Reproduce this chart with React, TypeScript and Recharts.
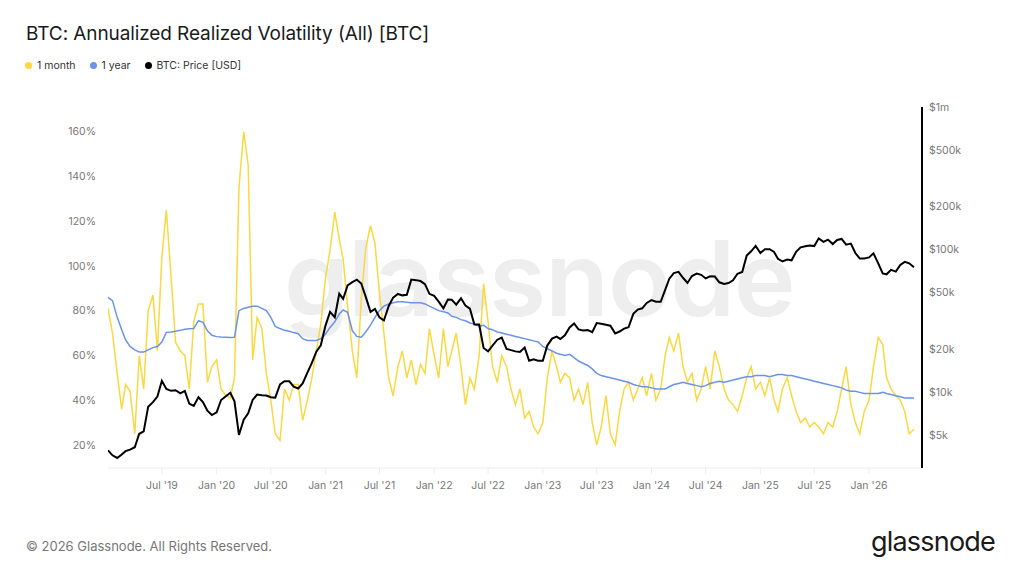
import React from "react";
import { LineChart, Line, XAxis, YAxis } from "recharts";

// half-month sample dates (1st and 16th)
const dates = [
  "2019-01-01", "2019-01-16", "2019-02-01", "2019-02-16", "2019-03-01", "2019-03-16", "2019-04-01", "2019-04-16", "2019-05-01", "2019-05-16", "2019-06-01", "2019-06-16",
  "2019-07-01", "2019-07-16", "2019-08-01", "2019-08-16", "2019-09-01", "2019-09-16", "2019-10-01", "2019-10-16", "2019-11-01", "2019-11-16", "2019-12-01", "2019-12-16",
  "2020-01-01", "2020-01-16", "2020-02-01", "2020-02-16", "2020-03-01", "2020-03-16", "2020-04-01", "2020-04-16", "2020-05-01", "2020-05-16", "2020-06-01", "2020-06-16",
  "2020-07-01", "2020-07-16", "2020-08-01", "2020-08-16", "2020-09-01", "2020-09-16", "2020-10-01", "2020-10-16", "2020-11-01", "2020-11-16", "2020-12-01", "2020-12-16",
  "2021-01-01", "2021-01-16", "2021-02-01", "2021-02-16", "2021-03-01", "2021-03-16", "2021-04-01", "2021-04-16", "2021-05-01", "2021-05-16", "2021-06-01", "2021-06-16",
  "2021-07-01", "2021-07-16", "2021-08-01", "2021-08-16", "2021-09-01", "2021-09-16", "2021-10-01", "2021-10-16", "2021-11-01", "2021-11-16", "2021-12-01", "2021-12-16",
  "2022-01-01", "2022-01-16", "2022-02-01", "2022-02-16", "2022-03-01", "2022-03-16", "2022-04-01", "2022-04-16", "2022-05-01", "2022-05-16", "2022-06-01", "2022-06-16",
  "2022-07-01", "2022-07-16", "2022-08-01", "2022-08-16", "2022-09-01", "2022-09-16", "2022-10-01", "2022-10-16", "2022-11-01", "2022-11-16", "2022-12-01", "2022-12-16",
  "2023-01-01", "2023-01-16", "2023-02-01", "2023-02-16", "2023-03-01", "2023-03-16", "2023-04-01", "2023-04-16", "2023-05-01", "2023-05-16", "2023-06-01", "2023-06-16",
  "2023-07-01", "2023-07-16", "2023-08-01", "2023-08-16", "2023-09-01", "2023-09-16", "2023-10-01", "2023-10-16", "2023-11-01", "2023-11-16", "2023-12-01", "2023-12-16",
  "2024-01-01", "2024-01-16", "2024-02-01", "2024-02-16", "2024-03-01", "2024-03-16", "2024-04-01", "2024-04-16", "2024-05-01", "2024-05-16", "2024-06-01", "2024-06-16",
  "2024-07-01", "2024-07-16", "2024-08-01", "2024-08-16", "2024-09-01", "2024-09-16", "2024-10-01", "2024-10-16", "2024-11-01", "2024-11-16", "2024-12-01", "2024-12-16",
  "2025-01-01", "2025-01-16", "2025-02-01", "2025-02-16", "2025-03-01", "2025-03-16", "2025-04-01", "2025-04-16", "2025-05-01", "2025-05-16", "2025-06-01", "2025-06-16",
  "2025-07-01", "2025-07-16", "2025-08-01", "2025-08-16", "2025-09-01", "2025-09-16", "2025-10-01", "2025-10-16", "2025-11-01", "2025-11-16", "2025-12-01", "2025-12-16",
  "2026-01-01", "2026-01-16", "2026-02-01", "2026-02-16", "2026-03-01", "2026-03-16", "2026-04-01", "2026-04-16", "2026-05-01", "2026-05-16", "2026-06-01",
];

// 1 month realized vol, %
const vol1m = [
  81, 70, 52, 36, 47, 44, 25, 60, 45, 80, 87, 62,
  104, 125, 95, 66, 62, 60, 45, 75, 83, 83, 48, 55,
  58, 45, 42, 41, 50, 135, 160, 145, 58, 77, 72, 52,
  40, 25, 22, 45, 40, 47, 47, 31, 40, 50, 62, 74,
  95, 107, 124, 112, 103, 82, 62, 50, 85, 108, 118, 110,
  88, 70, 50, 42, 55, 62, 50, 58, 47, 56, 52, 72,
  60, 50, 72, 55, 62, 70, 55, 38, 50, 45, 60, 92,
  75, 55, 48, 60, 55, 45, 38, 45, 32, 35, 28, 25,
  30, 50, 62, 55, 48, 52, 50, 40, 45, 38, 48, 30,
  20, 28, 42, 25, 20, 35, 45, 48, 40, 45, 50, 42,
  52, 40, 45, 60, 68, 62, 70, 55, 48, 52, 40, 45,
  55, 45, 62, 55, 45, 40, 38, 35, 42, 50, 55, 45,
  48, 42, 50, 40, 35, 45, 50, 42, 35, 30, 32, 28,
  30, 28, 25, 30, 28, 35, 45, 55, 38, 30, 25, 35,
  40, 55, 68, 65, 50, 45, 42, 40, 35, 25, 27,
];

// 1 year realized vol, %
const vol1y = [
  86, 84.5, 77, 71.5, 67, 64, 62.5, 61.5, 61.5, 62.5, 63.5, 64,
  66, 70.3, 70.5, 70.8, 71.2, 71.7, 71.9, 72, 75.5, 74.8, 71, 69,
  68.4, 68.2, 68.1, 68, 68.1, 80, 81, 81.5, 82, 82, 81, 80,
  77, 73, 72, 71.2, 70.8, 70.2, 69.7, 67.5, 66.7, 66.7, 66.7, 67.5,
  69.6, 72.5, 75, 78.5, 80.3, 79.3, 71, 68.5, 68.1, 70.5, 73.5, 77,
  80, 82, 83, 83.5, 84, 84, 83.8, 83.5, 83.5, 83.5, 83, 82,
  81, 80, 79.5, 79, 77.5, 77, 76, 75.5, 74.5, 74, 73, 73.5,
  72, 71.5, 70.5, 70, 69.5, 69, 68.5, 68, 67.5, 67, 66.5, 66,
  64, 63, 62, 61, 60.5, 60, 60.5, 59, 57.5, 56.5, 55.5, 54,
  52, 51, 50.5, 50, 49.5, 49, 48.5, 48, 47, 46.5, 46, 46,
  45.5, 45, 45, 45, 46, 47, 47.5, 48, 47.5, 47, 46.5, 46,
  46.5, 47.5, 48, 48.5, 48, 48.5, 49, 49.5, 50, 50.5, 50.5, 51,
  51, 51, 50.5, 51, 51.5, 51.5, 51, 51, 50.5, 50, 49.5, 49,
  48.5, 48, 47.5, 47, 46.5, 46, 45.5, 44.5, 44, 44, 43.5, 43,
  43, 43, 43, 43.5, 43, 42.5, 42, 41.5, 41, 41, 41,
];

// BTC price, USD
const price = [
  3900, 3600, 3450, 3650, 3850, 3950, 4100, 5100, 5300, 7900, 8500, 9300,
  12000, 10500, 10200, 10300, 9800, 10200, 8300, 8000, 9200, 8500, 7400, 6900,
  7200, 8800, 9350, 9900, 8600, 5000, 6400, 7100, 8800, 9600, 9500, 9450,
  9200, 9150, 11300, 11900, 11900, 10900, 10600, 11500, 13700, 16000, 19200, 21300,
  29400, 36500, 33500, 49000, 45000, 56000, 59000, 61500, 57800, 46500, 36500, 38300,
  33500, 31800, 40000, 46000, 48800, 47700, 48100, 61500, 61000, 60100, 57200, 48900,
  47300, 43100, 38700, 44600, 44400, 41100, 45500, 40400, 38500, 29800, 29800, 20400,
  19300, 21200, 23300, 24100, 20100, 19700, 19300, 19100, 20500, 16600, 17000, 16600,
  16600, 21200, 23700, 24500, 23600, 25000, 28400, 30300, 27500, 27000, 27200, 26300,
  30500, 30200, 29700, 29200, 25800, 26600, 27900, 28500, 35400, 37900, 38700, 42200,
  44200, 43100, 43000, 52100, 62400, 68400, 69700, 63400, 58300, 65200, 67800, 66500,
  62700, 64900, 64600, 58900, 57300, 58200, 60800, 67600, 69500, 90600, 97200, 106000,
  94400, 100500, 100600, 96100, 86100, 82600, 85100, 84000, 96500, 103500, 105600, 106800,
  105700, 119800, 113200, 117400, 109200, 116800, 118600, 108200, 110000, 94500, 86500, 86400,
  88000, 94000, 80000, 68000, 67000, 72000, 70000, 78000, 82000, 80000, 75000,
];

const xTicks = [
  "2019-07-01", "2020-01-01", "2020-07-01", "2021-01-01", "2021-07-01", "2022-01-01", "2022-07-01",
  "2023-01-01", "2023-07-01", "2024-01-01", "2024-07-01", "2025-01-01", "2025-07-01", "2026-01-01",
];
const volTicks = [20, 40, 60, 80, 100, 120, 140, 160];
const priceTicks = [5000, 10000, 20000, 50000, 100000, 200000, 500000, 1000000];

const X_START = Date.parse("2019-01-01");
const X_END = Date.parse("2026-06-28");

const YELLOW = "#f8d843";
const BLUE = "#6b93e8";
const BLACK = "#000000";
const FONT = "Inter, 'Noto Sans', sans-serif";

const data = dates.map((d, i) => ({
  t: Date.parse(d),
  m: vol1m[i],
  y: vol1y[i],
  p: price[i],
}));

const MONTHS = ["Jan", "Feb", "Mar", "Apr", "May", "Jun", "Jul", "Aug", "Sep", "Oct", "Nov", "Dec"];
const fmtDate = (t: number) => {
  const d = new Date(t);
  return `${MONTHS[d.getUTCMonth()]} '${String(d.getUTCFullYear()).slice(2)}`;
};
const fmtPrice = (v: number) => (v >= 1000000 ? `$${v / 1000000}m` : `$${v / 1000}k`);

function LegendItem({ color, label }: { color: string; label: string }) {
  return (
    <span style={{ display: "inline-flex", alignItems: "center", marginRight: 14 }}>
      <span style={{ width: 7, height: 7, borderRadius: "50%", background: color, marginRight: 5 }} />
      {label}
    </span>
  );
}

export default function App() {
  const tick = { fill: "#777", fontSize: 10.5, fontFamily: FONT };
  return (
    <div
      style={{
        position: "absolute",
        left: 0,
        top: 0,
        width: 1024,
        height: 576,
        background: "#fff",
        fontFamily: FONT,
        overflow: "hidden",
      }}
    >
      <div style={{ position: "absolute", left: 26, top: 22, fontSize: 19, color: "#1a1a1a", letterSpacing: -0.1 }}>
        BTC: Annualized Realized Volatility (All) [BTC]
      </div>
      <div style={{ position: "absolute", left: 25, top: 59, fontSize: 10.5, color: "#333", display: "flex" }}>
        <LegendItem color={YELLOW} label="1 month" />
        <LegendItem color={BLUE} label="1 year" />
        <LegendItem color={BLACK} label="BTC: Price [USD]" />
      </div>
      {/* watermark */}
      <div
        style={{
          position: "absolute",
          left: 284,
          top: 226,
          fontSize: 104,
          fontWeight: 600,
          color: "#eeeeee",
          letterSpacing: -1,
          lineHeight: 1,
        }}
      >
        glassnode
      </div>
      <div style={{ position: "absolute", left: 0, top: 0 }}>
        <LineChart width={1024} height={576} data={data} margin={{ top: 107, right: 22, left: 48, bottom: 78 }}>
          <XAxis
            dataKey="t"
            type="number"
            scale="time"
            domain={[X_START, X_END]}
            ticks={xTicks.map((d) => Date.parse(d))}
            tickFormatter={fmtDate}
            axisLine={{ stroke: "#ececec" }}
            tickLine={{ stroke: "#ececec" }}
            tickSize={6}
            tickMargin={8}
            tick={tick}
            height={30}
            allowDataOverflow
          />
          <YAxis
            yAxisId="vol"
            orientation="left"
            domain={[9.7, 171]}
            ticks={volTicks}
            tickFormatter={(v: number) => `${v}%`}
            axisLine={false}
            tickLine={false}
            tickSize={0}
            tickMargin={12}
            tick={tick}
            width={60}
            allowDataOverflow
          />
          <YAxis
            yAxisId="price"
            orientation="right"
            scale="log"
            domain={[2933, 1000000]}
            ticks={priceTicks}
            tickFormatter={fmtPrice}
            axisLine={{ stroke: "#000", strokeWidth: 2 }}
            tickLine={false}
            tickSize={0}
            tickMargin={7}
            tick={{ ...tick, textAnchor: "start" }}
            width={80}
            allowDataOverflow
          />
          <Line yAxisId="vol" dataKey="m" stroke={YELLOW} strokeWidth={1.5} dot={false} isAnimationActive={false} />
          <Line yAxisId="vol" dataKey="y" stroke={BLUE} strokeWidth={1.5} dot={false} isAnimationActive={false} />
          <Line yAxisId="price" dataKey="p" stroke={BLACK} strokeWidth={2} dot={false} isAnimationActive={false} />
        </LineChart>
      </div>
      <div style={{ position: "absolute", left: 26, top: 538, fontSize: 13, color: "#777" }}>
        © 2026 Glassnode. All Rights Reserved.
      </div>
      <div
        style={{
          position: "absolute",
          left: 871,
          top: 528,
          fontSize: 27,
          color: "#1a1a1a",
          letterSpacing: -0.8,
          lineHeight: 1,
        }}
      >
        glassnode
      </div>
    </div>
  );
}
